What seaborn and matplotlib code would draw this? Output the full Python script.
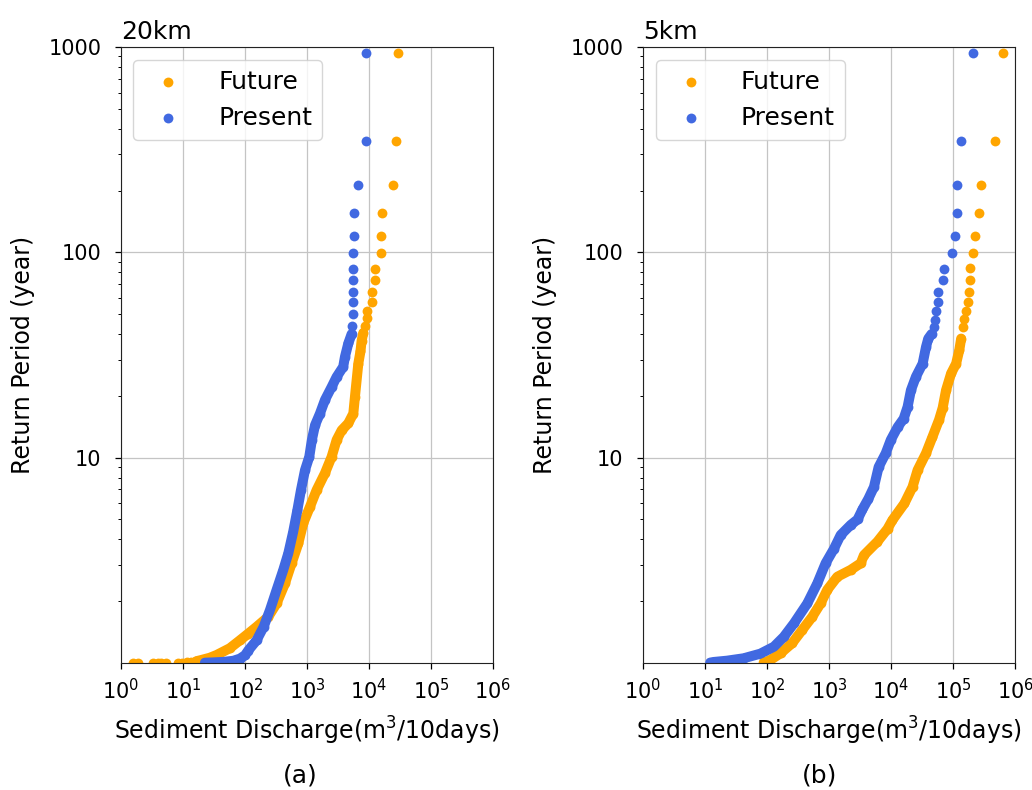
import numpy as np
import pandas as pd
import matplotlib.pyplot as plt
import seaborn as sns
from matplotlib.ticker import NullLocator

sns.set_style("ticks")
plt.rcParams['font.family'] = ['DejaVu Sans']
plt.rcParams['text.color'] = 'black'
plt.rcParams['axes.labelcolor'] = 'black'
plt.rcParams['xtick.color'] = 'black'
plt.rcParams['ytick.color'] = 'black'

# ---- data (discharge m3/10days, return period years) ----
# 20km, future
q20_future = [1.55, 1.9, 3.3, 3.9, 4.5, 5.3, 8.2, 9.6, 11.5, 13.5,
              16.5, 20, 27, 35, 57, 83, 113, 154, 238, 324, 442, 566, 725, 870,
              1120, 1430, 1950, 2500, 3010, 3630, 4640, 5590, 5940, 6730, 7300,
              7600, 8090,
              8600, 9400, 9400, 11000, 11000, 12500, 12500, 15400, 15400, 16000,
              24600, 27500, 29000]
t20_future = [1.001, 1.001, 1.002, 1.002, 1.003, 1.003, 1.004, 1.005, 1.006, 1.008,
              1.02, 1.035, 1.06, 1.094, 1.18, 1.29, 1.39, 1.50, 1.68, 1.95, 2.44, 3.06, 3.82, 4.79,
              5.77, 6.95, 8.4, 10.1, 12.2, 13.6, 14.7, 16.4, 19.8, 28.7, 33,
              37, 40.5,
              44, 48, 52, 57, 64, 73, 83, 99, 120, 155,
              213, 347, 940]

# 20km, present
q20_present = [22.6, 30, 45, 65, 83, 100, 113, 154, 200, 253, 324, 415, 500, 600,
               700, 800, 930, 1090, 1200, 1350, 1620, 1950, 2500, 3000, 3840, 4100,
               4640, 5250,
               5250, 5460, 5460, 5460, 5460, 5460, 5460, 5730, 5730, 6570, 8950, 8850]
t20_present = [1.003, 1.006, 1.012, 1.025, 1.05, 1.09, 1.15, 1.29, 1.50, 1.81, 2.27, 2.84, 3.42, 4.36,
               5.55, 6.95, 8.7, 10.1, 12.2, 14.4, 16.4, 19.1, 22.1, 24.7, 27.7, 31,
               36, 40,
               44, 50, 57, 64, 73, 83, 99, 120, 155, 213, 347, 940]

# 5km, future
q5_future = [88, 113, 165, 255, 370, 537, 731, 935, 1360, 2230, 3240, 3650, 6030,
             8770, 10500, 16400, 22200, 26800, 36600, 46400, 59500, 68000, 77000,
             92900, 112000, 126000, 135000,
             144000, 152000, 163000, 174000, 178000, 186000, 186000, 213000, 226000,
             260000, 284000, 468000, 634000]
t5_future = [1.003, 1.034, 1.115, 1.25, 1.45, 1.68, 1.95, 2.27, 2.63, 2.84, 3.06, 3.35, 3.9,
             4.5, 4.96, 5.98, 7.2, 8.7, 10.5, 12.6, 15.3, 17.5, 21.3,
             25.7, 28.7, 33.4, 38,
             43.5, 47.5, 52, 57, 64, 73, 83.7, 99, 120,
             155, 213, 347, 940]

# 5km, present
q5_present = [12.1, 13.7, 22.6, 42, 78, 129, 186, 272, 446, 646, 880, 1200, 1540,
              2230, 2880, 3460, 4300, 5300, 6300, 8200, 9900, 12800, 16000, 18500,
              20900, 25200, 32300, 36600, 39800, 45000,
              49800, 51700, 53500, 56800, 58000, 68000, 70500, 96000, 107000,
              115000, 115000, 135000, 213000]
t5_present = [1.004, 1.011, 1.026, 1.054, 1.11, 1.20, 1.34, 1.56, 1.95, 2.44, 3.06, 3.6, 4.2,
              4.7, 5.0, 5.6, 6.3, 7.2, 9.0, 10.5, 12.2, 14.1, 15.5, 17.7,
              21.3, 24.8, 28.7, 34.6, 38, 40,
              43.5, 47, 51.5, 57, 64, 73, 83, 99, 120,
              155, 213, 347, 940]

ORANGE = "orange"
BLUE = "royalblue"


def plot_series(ax, q, t, color, label, q_line_min=0):
    df = pd.DataFrame({"q": q, "t": t})
    # the dense part of the record reads as a solid band of overlapping dots
    dense = df[(df["t"] <= 42) & (df["q"] >= q_line_min)]
    sns.lineplot(data=dense, x="q", y="t", ax=ax, color=color, lw=7.2,
                 estimator=None, sort=False, legend=False,
                 solid_capstyle="round", solid_joinstyle="round")
    sns.scatterplot(data=df, x="q", y="t", ax=ax, color=color, s=50,
                    linewidth=0, label=label)


fig = plt.figure(figsize=(10.32, 7.9), dpi=100)
ax1 = fig.add_axes([0.1172, 0.1608, 0.3605, 0.7797])
ax2 = fig.add_axes([0.6231, 0.1608, 0.3605, 0.7797])

panels = [
    (ax1, "20km", q20_future, t20_future, q20_present, t20_present, 15),
    (ax2, "5km", q5_future, t5_future, q5_present, t5_present, 0),
]

for ax, title, qf, tf, qp, tp, qmin in panels:
    ax.set_xscale("log")
    ax.set_yscale("log")
    plot_series(ax, qf, tf, ORANGE, "Future", q_line_min=qmin)
    plot_series(ax, qp, tp, BLUE, "Present")

    ax.set_xlim(1, 1e6)
    ax.set_ylim(1, 1000)
    ax.set_xticks([10.0 ** k for k in range(7)])
    ax.xaxis.set_minor_locator(NullLocator())
    ax.set_yticks([10, 100, 1000], ["10", "100", "1000"])
    ax.grid(True, which="major", color="#c4c4c4", lw=0.9)
    ax.tick_params(axis="both", which="major", labelsize=15, length=4, width=0.9)
    ax.tick_params(axis="y", which="major", pad=10)
    ax.tick_params(axis="x", which="major", pad=7)
    ax.tick_params(axis="y", which="minor", length=2.5, width=0.7)
    for sp in ax.spines.values():
        sp.set_visible(True)
        sp.set_color("#222222")

    ax.set_xlabel("Sediment Discharge(m$^3$/10days)", fontsize=17, labelpad=8)
    ax.set_ylabel("Return Period (year)", fontsize=17, labelpad=10)
    ax.set_title(title, loc="left", fontsize=18)
    ax.legend(loc="upper left", fontsize=18, frameon=True, handletextpad=1.0,
              borderaxespad=0.5)

fig.text(300 / 1032, 0.018, "(a)", ha="center", va="center", fontsize=18)
fig.text(820 / 1032, 0.018, "(b)", ha="center", va="center", fontsize=18)

fig.savefig("out.png", dpi=100)
